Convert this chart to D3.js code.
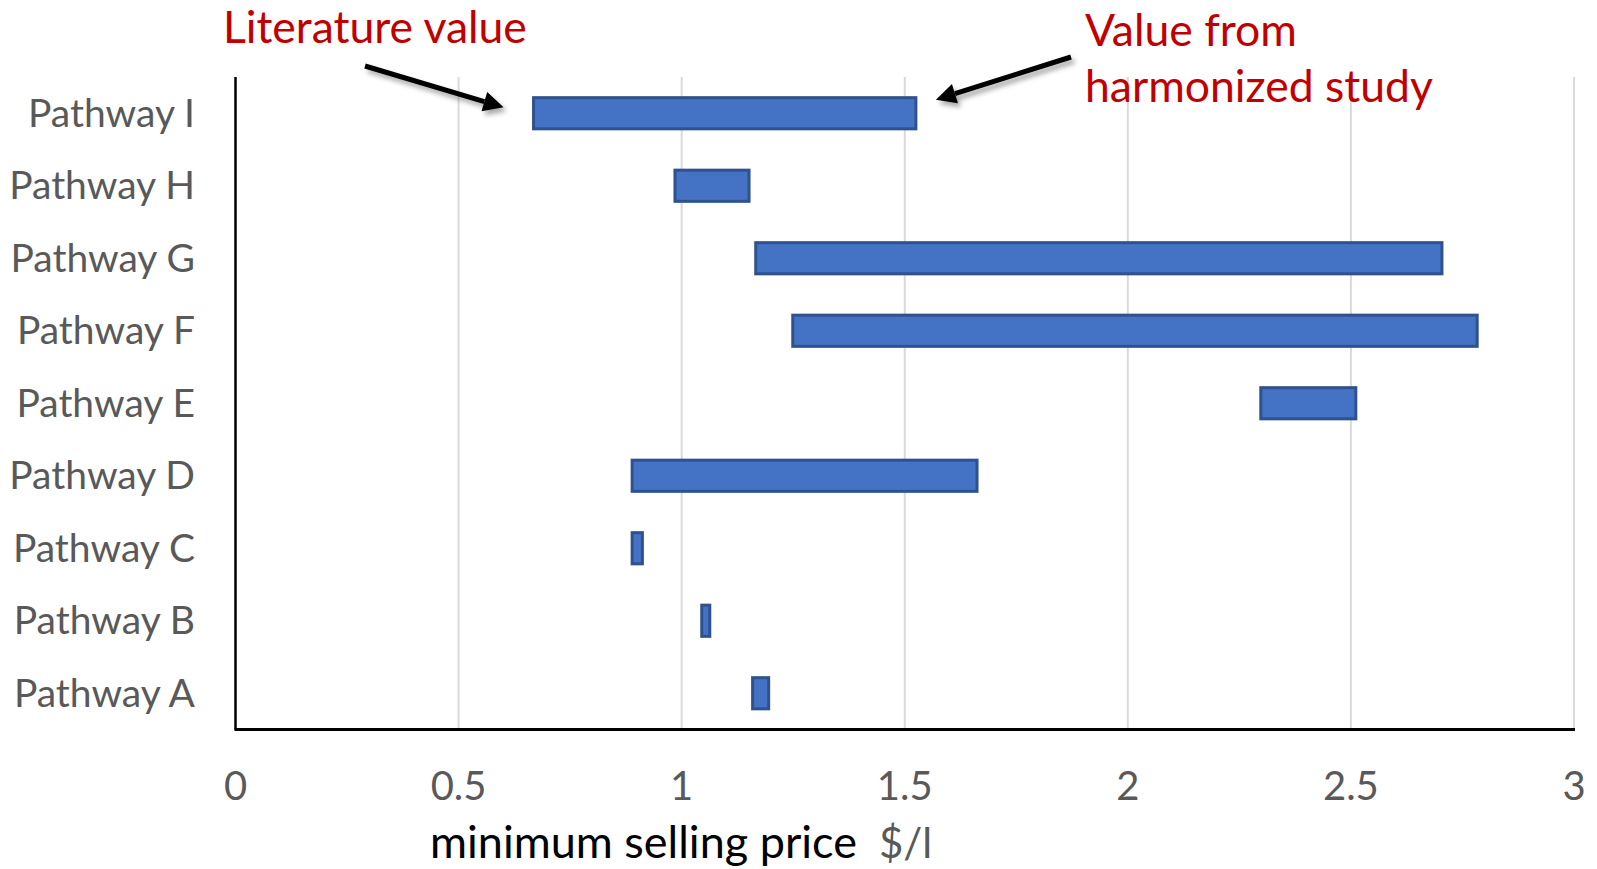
<!DOCTYPE html>
<html>
<head>
<meta charset="utf-8">
<script src="https://cdn.jsdelivr.net/npm/d3@7"></script>
<style>
  body { margin: 0; background: #fff; }
  svg { display: block; font-family: Lato, "Open Sans", sans-serif; }
</style>
</head>
<body>
<svg id="chart" width="1597" height="869"></svg>
<script>
// pathways, bottom to top
var categories = ["Pathway A", "Pathway B", "Pathway C", "Pathway D", "Pathway E",
                  "Pathway F", "Pathway G", "Pathway H", "Pathway I"];
// lower and upper end of each range, $/l
var rangeLow  = [1.159, 1.045, 0.889, 0.889, 2.298, 1.249, 1.166, 0.985, 0.668];
var rangeHigh = [1.195, 1.063, 0.912, 1.662, 2.511, 2.783, 2.704, 1.151, 1.525];
var xTicks = [0, 0.5, 1, 1.5, 2, 2.5, 3];

var rows = categories.map(function(c, i) {
  return { name: c, low: rangeLow[i], high: rangeHigh[i] };
});

var svg = d3.select("#chart");

var plotLeft = 235.5, plotRight = 1574, plotTop = 77, plotBottom = 729.5;

var x = d3.scaleLinear().domain([0, 3]).range([plotLeft, plotRight]);
var y = d3.scaleBand()
  .domain(categories.slice().reverse())
  .range([plotTop, plotBottom])
  .paddingInner(0.57)
  .paddingOuter(0.285);

// shadow for the arrows
var defs = svg.append("defs");
var f = defs.append("filter").attr("id", "shadow")
  .attr("x", "-20%").attr("y", "-50%").attr("width", "140%").attr("height", "200%");
f.append("feDropShadow").attr("dx", 3).attr("dy", 4).attr("stdDeviation", 2.5)
  .attr("flood-color", "#000").attr("flood-opacity", 0.35);

// gridlines
svg.append("g")
  .selectAll("line")
  .data(xTicks.filter(function(d) { return d > 0; }))
  .enter().append("line")
  .attr("x1", function(d) { return x(d); })
  .attr("x2", function(d) { return x(d); })
  .attr("y1", plotTop)
  .attr("y2", plotBottom)
  .attr("stroke", "#d9d9d9")
  .attr("stroke-width", 2);

// bars
svg.append("g")
  .selectAll("rect")
  .data(rows)
  .enter().append("rect")
  .attr("x", function(d) { return x(d.low); })
  .attr("y", function(d) { return y(d.name); })
  .attr("width", function(d) { return x(d.high) - x(d.low); })
  .attr("height", y.bandwidth())
  .attr("fill", "#4472c4")
  .attr("stroke", "#2f528f")
  .attr("stroke-width", 3);

// axes
svg.append("line")
  .attr("x1", plotLeft).attr("x2", plotLeft)
  .attr("y1", plotTop).attr("y2", plotBottom)
  .attr("stroke", "#000").attr("stroke-width", 2.5);
svg.append("line")
  .attr("x1", plotLeft - 1).attr("x2", plotRight + 1)
  .attr("y1", plotBottom).attr("y2", plotBottom)
  .attr("stroke", "#000").attr("stroke-width", 3);

// tick labels
svg.append("g")
  .selectAll("text")
  .data(xTicks)
  .enter().append("text")
  .attr("x", function(d) { return x(d); })
  .attr("y", 800)
  .attr("text-anchor", "middle")
  .attr("font-size", 40)
  .attr("fill", "#595959")
  .text(function(d) { return d; });

// category labels
svg.append("g")
  .selectAll("text")
  .data(categories)
  .enter().append("text")
  .attr("x", 195)
  .attr("y", function(d) { return y(d) + y.bandwidth() / 2; })
  .attr("dy", "0.35em")
  .attr("text-anchor", "end")
  .attr("font-size", 39)
  .attr("fill", "#595959")
  .text(function(d) { return d; });

// axis title
var title = svg.append("text")
  .attr("x", 430)
  .attr("y", 858)
  .attr("font-size", 45)
  .attr("fill", "#000");
title.append("tspan").text("minimum selling price");
title.append("tspan").attr("dx", 22).attr("font-size", 42).attr("fill", "#595959").text("$/l");

// annotations
var red = "#c00000";
svg.append("text")
  .attr("x", 223).attr("y", 43)
  .attr("font-size", 44.5).attr("fill", red)
  .text("Literature value");
svg.append("text")
  .attr("x", 1085).attr("y", 46)
  .attr("font-size", 44.5).attr("fill", red)
  .text("Value from");
svg.append("text")
  .attr("x", 1085).attr("y", 102)
  .attr("font-size", 44.5).attr("fill", red)
  .text("harmonized study");

function arrow(x1, y1, x2, y2) {
  var ang = Math.atan2(y2 - y1, x2 - x1);
  var headLen = 20, headW = 10;
  var bx = x2 - headLen * Math.cos(ang), by = y2 - headLen * Math.sin(ang);
  var px = -Math.sin(ang), py = Math.cos(ang);
  var g = svg.append("g").attr("filter", "url(#shadow)");
  g.append("line")
    .attr("x1", x1).attr("y1", y1).attr("x2", bx).attr("y2", by)
    .attr("stroke", "#000").attr("stroke-width", 5);
  g.append("path")
    .attr("d", "M" + x2 + "," + y2 +
               "L" + (bx + px * headW) + "," + (by + py * headW) +
               "L" + (bx - px * headW) + "," + (by - py * headW) + "Z")
    .attr("fill", "#000");
}

var topRow = rows[rows.length - 1];
arrow(365, 66, x(topRow.low) - 30, y(topRow.name) + y.bandwidth() / 2 - 6);
arrow(1071, 57, x(topRow.high) + 20, y(topRow.name) + 2);
</script>
</body>
</html>
